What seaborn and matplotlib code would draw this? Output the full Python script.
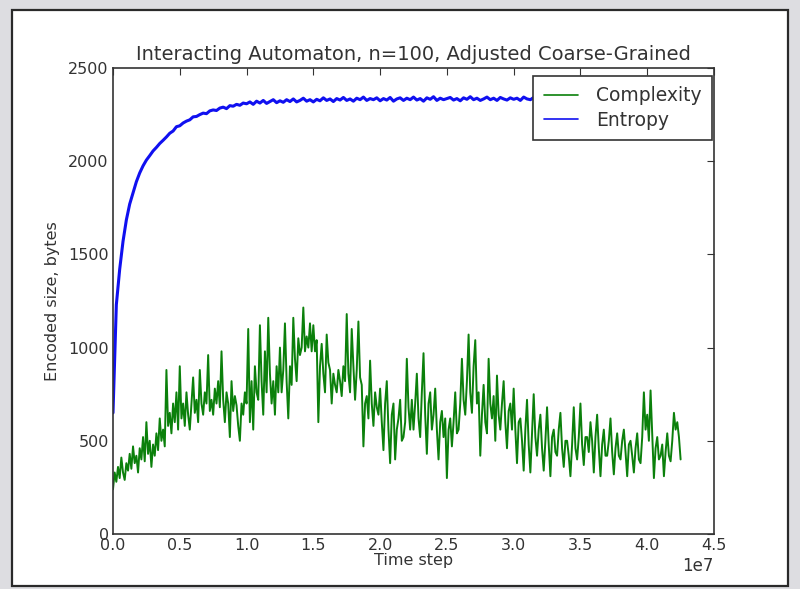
import numpy as np
import pandas as pd
import matplotlib
matplotlib.use("Agg")
import matplotlib.pyplot as plt
from matplotlib.patches import Rectangle
import seaborn as sns

# ---------------- data ----------------
c_step = 1.25e5  # time between complexity samples
e_step = 2.5e5   # time between entropy samples

complexity = [
    240, 330, 280, 360, 300, 410, 330, 290, 380, 340, 430, 350, 470, 380, 420, 330, 460, 400, 520, 390,
    600, 430, 500, 360, 480, 420, 540, 450, 620, 500, 560, 470, 880, 580, 650, 540, 700, 600, 760, 560,
    900, 620, 700, 580, 760, 640, 560, 700, 840, 650, 720, 600, 880, 700, 640, 760, 700, 960, 660, 720,
    640, 780, 700, 820, 680, 980, 720, 600, 760, 700, 520, 820, 660, 740, 690, 580, 500, 700, 640, 760,
    700, 1100, 600, 820, 560, 900, 760, 720, 1120, 820, 640, 980, 760, 1160, 860, 700, 820, 640, 900, 760,
    1000, 760, 880, 1130, 820, 620, 900, 800, 1160, 940, 820, 1050, 960, 1000, 1215, 980, 1060, 1000, 1130, 980,
    1120, 980, 1040, 600, 900, 1020, 860, 760, 1070, 920, 880, 700, 860, 800, 760, 880, 820, 740, 900, 820,
    1180, 860, 760, 1100, 900, 720, 880, 1140, 840, 800, 470, 700, 740, 620, 930, 700, 580, 760, 680, 640,
    780, 600, 450, 700, 820, 560, 380, 640, 700, 400, 560, 620, 720, 500, 520, 600, 940, 680, 560, 720,
    560, 700, 860, 620, 520, 760, 970, 640, 430, 700, 760, 560, 640, 780, 560, 400, 600, 660, 520, 620,
    300, 560, 620, 470, 600, 760, 540, 560, 700, 940, 720, 640, 820, 1070, 760, 650, 900, 1040, 700, 760,
    420, 640, 800, 600, 540, 940, 700, 620, 740, 500, 850, 640, 560, 700, 820, 600, 460, 660, 700, 560,
    780, 560, 380, 600, 620, 500, 340, 560, 720, 480, 330, 540, 750, 520, 420, 560, 640, 460, 340, 500,
    680, 480, 310, 520, 560, 440, 420, 560, 650, 460, 360, 500, 500, 420, 310, 480, 680, 460, 400, 520,
    700, 480, 370, 520, 520, 440, 600, 500, 330, 520, 640, 460, 310, 480, 560, 420, 420, 500, 620, 440,
    320, 460, 540, 420, 400, 500, 560, 440, 310, 480, 500, 420, 330, 460, 540, 400, 380, 520, 760, 560,
    640, 500, 770, 540, 300, 460, 520, 400, 420, 480, 310, 440, 540, 420, 390, 500, 650, 560, 600, 520,
    400,
]

entropy = [
    650, 1230, 1420, 1570, 1685, 1770, 1830, 1890, 1937, 1975,
    2006, 2030, 2055, 2074, 2095, 2112, 2130, 2150, 2162, 2185,
    2190, 2205, 2215, 2222, 2238, 2240, 2250, 2258, 2255, 2270,
    2275, 2272, 2285, 2290, 2282, 2298, 2295, 2305, 2300, 2312,
    2308,
    2318, 2305, 2322, 2312, 2326, 2310, 2320, 2330, 2314, 2324,
    2316, 2330, 2320, 2334, 2318, 2326, 2338, 2322, 2330, 2318,
    2332, 2324, 2340, 2326, 2334, 2320, 2336, 2328, 2342, 2326,
    2334, 2322, 2338, 2330, 2344, 2326, 2336, 2330, 2340, 2324,
    2336, 2328, 2342, 2322, 2334, 2340, 2326, 2338, 2330, 2344,
    2328, 2336, 2322, 2340, 2332, 2346, 2326, 2338, 2330, 2336,
    2342, 2328, 2336, 2324, 2340, 2332, 2346, 2330, 2338, 2326,
    2334, 2344, 2330, 2338, 2326, 2342, 2334, 2328, 2340, 2332,
    2338, 2326, 2344, 2334, 2330, 2342, 2328, 2336, 2346, 2330,
    2338, 2332, 2344, 2326, 2340, 2334, 2330, 2342, 2336, 2328,
    2340, 2334, 2346, 2330, 2338, 2326, 2342, 2336, 2332, 2344,
    2330, 2338, 2342, 2328, 2340, 2334, 2346, 2330, 2336, 2342,
    2332, 2340, 2328, 2344, 2336, 2330, 2342, 2334, 2338, 2336,
]

series_names = ["Complexity", "Entropy"]
series_colors = ["#0b800b", "#1010f0"]

title = "Interacting Automaton, n=100, Adjusted Coarse-Grained"
xlabel = "Time step"
ylabel = "Encoded size, bytes"
xticks = [0, 0.5e7, 1.0e7, 1.5e7, 2.0e7, 2.5e7, 3.0e7, 3.5e7, 4.0e7, 4.5e7]
yticks = [0, 500, 1000, 1500, 2000, 2500]

# ---------------- frames ----------------
df_c = pd.DataFrame({"t": np.arange(len(complexity)) * c_step, "v": complexity})
df_e = pd.DataFrame({"t": np.arange(len(entropy)) * e_step, "v": entropy})

sns.set_style("white")
plt.rcParams["font.family"] = ["DejaVu Sans"]
plt.rcParams.update({
    "xtick.direction": "in", "ytick.direction": "in",
    "xtick.top": True, "ytick.right": True,
    "xtick.major.size": 5, "ytick.major.size": 5,
    "xtick.major.width": 0.8, "ytick.major.width": 0.8,
    "axes.edgecolor": "#333333", "axes.linewidth": 1.2,
})

fig = plt.figure(figsize=(8.0, 5.89), dpi=100, facecolor="#dddde1")
# white screenshot panel with dark frame
fig.patches.append(Rectangle((12 / 800, 1 - 586 / 589), 776 / 800, 576 / 589,
                             transform=fig.transFigure, facecolor="white",
                             edgecolor="#2a2a2a", linewidth=1.6, zorder=-10))

ax = fig.add_axes([113 / 800, 1 - 534 / 589, 601 / 800, 466 / 589])
ax.set_facecolor("white")
ax.set_zorder(1)

sns.lineplot(data=df_c, x="t", y="v", ax=ax, color=series_colors[0],
             label=series_names[0], linewidth=1.4, estimator=None)
sns.lineplot(data=df_e, x="t", y="v", ax=ax, color=series_colors[1],
             label=series_names[1], linewidth=2.2, estimator=None)

ax.set_xlim(0, 4.5e7)
ax.set_ylim(0, 2500)
ax.set_xticks(xticks)
ax.set_yticks(yticks)
ax.tick_params(labelsize=11.5, colors="#333333", pad=3)
ax.set_title(title, fontsize=14, color="#333333", pad=6)
ax.set_xlabel(xlabel, fontsize=11.5, color="#333333", labelpad=0)
ax.set_ylabel(ylabel, fontsize=11.5, color="#333333", labelpad=6)
ax.xaxis.get_offset_text().set_fontsize(12)
ax.xaxis.get_offset_text().set_color("#333333")
for s in ax.spines.values():
    s.set_visible(True)

leg = ax.legend(loc="upper right", bbox_to_anchor=(0.997, 0.983),
                fontsize=13.5, frameon=True, fancybox=False,
                edgecolor="#333333", framealpha=1, borderaxespad=0,
                handlelength=1.8, handletextpad=1.0,
                borderpad=0.55, labelspacing=0.3)
leg.get_frame().set_linewidth(1.2)
for line in leg.get_lines():
    line.set_linewidth(1.2)
for txt in leg.get_texts():
    txt.set_color("#333333")

fig.savefig("out.png", dpi=100, facecolor=fig.get_facecolor())
